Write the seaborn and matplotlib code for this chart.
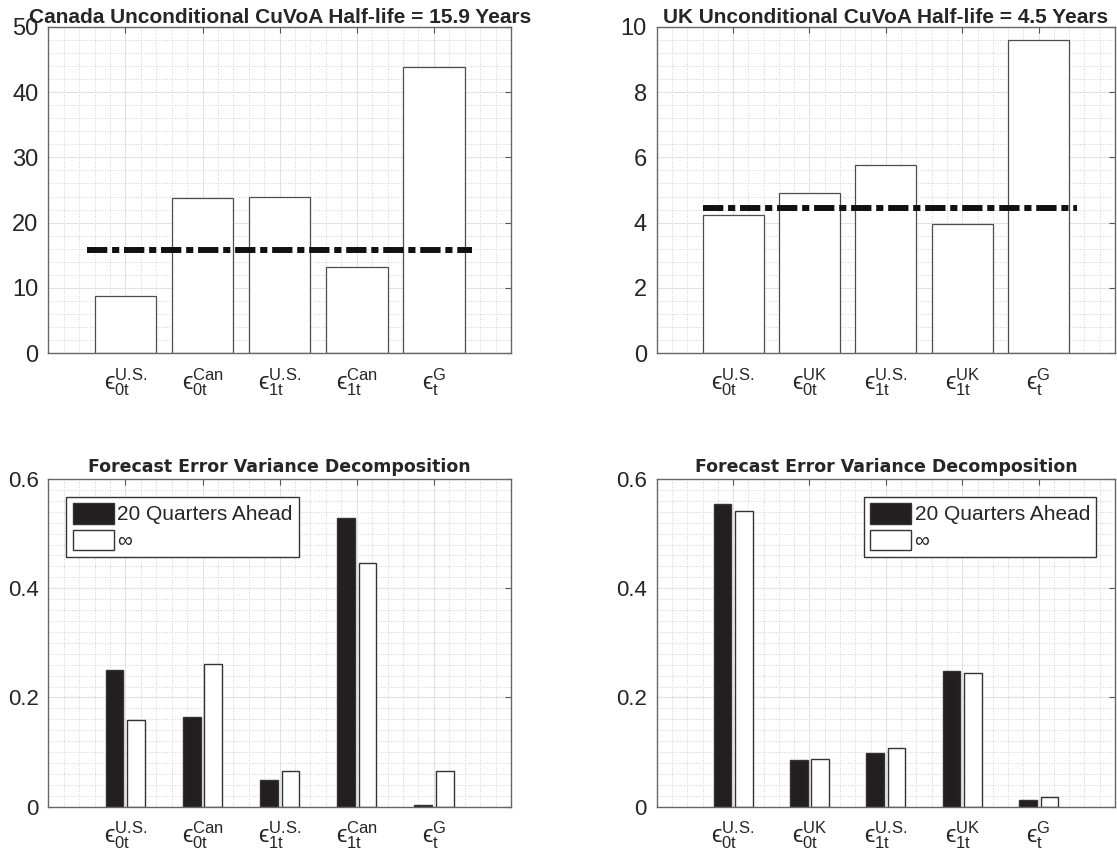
import matplotlib
matplotlib.use("Agg")
import matplotlib.pyplot as plt
from matplotlib.ticker import MultipleLocator, FuncFormatter
import pandas as pd
import seaborn as sns

# shock labels (tick labels)
can_shocks = [r"$\mathrm{ϵ}^{\text{U.S.}}_{\rm 0t}$", r"$\mathrm{ϵ}^{\rm Can}_{\rm 0t}$",
              r"$\mathrm{ϵ}^{\text{U.S.}}_{\rm 1t}$", r"$\mathrm{ϵ}^{\rm Can}_{\rm 1t}$",
              r"$\mathrm{ϵ}^{\rm G}_{\rm t}$"]
uk_shocks = [r"$\mathrm{ϵ}^{\text{U.S.}}_{\rm 0t}$", r"$\mathrm{ϵ}^{\rm UK}_{\rm 0t}$",
             r"$\mathrm{ϵ}^{\text{U.S.}}_{\rm 1t}$", r"$\mathrm{ϵ}^{\rm UK}_{\rm 1t}$",
             r"$\mathrm{ϵ}^{\rm G}_{\rm t}$"]

# half-lives (years) conditional on each shock
can_halflife = [8.8, 23.7, 24.0, 13.2, 43.9]
uk_halflife = [4.22, 4.91, 5.77, 3.95, 9.6]
can_uncond = 15.88
uk_uncond = 4.46

# forecast error variance shares
horizons = ["20 Quarters Ahead", "\u221e"]
can_fevd_20q = [0.251, 0.1645, 0.048, 0.529, 0.004]
can_fevd_inf = [0.158, 0.262, 0.0646, 0.4465, 0.0646]
uk_fevd_20q = [0.554, 0.086, 0.098, 0.2485, 0.012]
uk_fevd_inf = [0.542, 0.087, 0.107, 0.2455, 0.0177]

sns.set_style("white")
plt.rcParams["font.family"] = ["Liberation Sans", "DejaVu Sans"]
plt.rcParams["mathtext.fontset"] = "custom"
plt.rcParams["mathtext.rm"] = "Liberation Sans"
plt.rcParams["mathtext.it"] = "Liberation Sans:italic"
plt.rcParams["mathtext.bf"] = "Liberation Sans:bold"
plt.rcParams["mathtext.fallback"] = "stixsans"

W, H = 1117, 861
fig = plt.figure(figsize=(W / 100, H / 100), dpi=100)


def rect(l, t, r, b):
    return [l / W, 1 - b / H, (r - l) / W, (b - t) / H]


def style_axes(ax, ymax, ystep, yminor, ysize):
    ax.set_xlim(-1, 5)
    ax.set_ylim(0, ymax)
    ax.yaxis.set_major_locator(MultipleLocator(ystep))
    ax.yaxis.set_minor_locator(MultipleLocator(yminor))
    ax.xaxis.set_minor_locator(MultipleLocator(0.2))
    ax.yaxis.set_major_formatter(FuncFormatter(lambda v, p: "%g" % round(v, 6)))
    ax.grid(True, which="major", color="#e2e2e2", lw=0.8, ls="-")
    ax.grid(True, which="minor", color="#d2d2d2", lw=0.7, ls=":")
    ax.set_axisbelow(True)
    ax.tick_params(which="major", direction="in", length=4, width=0.8,
                   color="#555555", top=True, right=True, labelcolor="#262626")
    ax.tick_params(which="minor", length=0)
    ax.tick_params(axis="x", labelsize=17, pad=9)
    ax.tick_params(axis="y", labelsize=ysize, pad=7)
    for s in ax.spines.values():
        s.set_visible(True)
        s.set_color("#666666")
        s.set_linewidth(1)
    ax.set_xlabel("")
    ax.set_ylabel("")


def halflife_panel(ax, shocks, vals, uncond, country, ymax, ystep, yminor, x0):
    sns.barplot(x=shocks, y=vals, color="white", edgecolor="#4d4d4d", linewidth=0.9,
                width=0.8, saturation=1, errorbar=None, ax=ax)
    ax.plot([x0, 4.5], [uncond, uncond], color="#111111", lw=4.3,
            ls=(0, (3.4, 0.8, 1.2, 0.8)), zorder=3)
    style_axes(ax, ymax, ystep, yminor, 17)
    ax.set_title("%s Unconditional CuVoA Half-life = %.1f Years" % (country, uncond),
                 fontsize=15, fontweight="bold", pad=2.5)


def fevd_panel(ax, shocks, q20, qinf, legend_loc, anchor):
    df = pd.DataFrame({"shock": shocks * 2,
                       "horizon": [horizons[0]] * 5 + [horizons[1]] * 5,
                       "share": q20 + qinf})
    sns.barplot(data=df, x="shock", y="share", hue="horizon", hue_order=horizons,
                palette={horizons[0]: "#231f20", horizons[1]: "white"},
                edgecolor="#333333", linewidth=1, width=0.56, gap=0.18,
                saturation=1, errorbar=None, ax=ax)
    style_axes(ax, 0.6, 0.2, 0.02, 16)
    ax.set_title("Forecast Error Variance Decomposition", fontsize=12.5,
                 fontweight="bold", family="DejaVu Sans", pad=5)
    sns.move_legend(ax, legend_loc, bbox_to_anchor=anchor, title=None,
                    frameon=True, fontsize=15, handlelength=2.0, handleheight=1.15,
                    handletextpad=0.15, labelspacing=0.25, borderpad=0.3,
                    borderaxespad=0, fancybox=False, framealpha=1, edgecolor="#333333")
    ax.get_legend().get_frame().set_linewidth(1)


ax1 = fig.add_axes(rect(48.3, 26.7, 511, 353.3))
halflife_panel(ax1, can_shocks, can_halflife, can_uncond, "Canada", 50, 10, 2, -0.5)

ax2 = fig.add_axes(rect(656.7, 26.7, 1115, 353.3))
halflife_panel(ax2, uk_shocks, uk_halflife, uk_uncond, "UK", 10, 2, 0.4, -0.4)

ax3 = fig.add_axes(rect(48.3, 479, 511, 806.7))
fevd_panel(ax3, can_shocks, can_fevd_20q, can_fevd_inf, "upper left", (0.039, 0.946))

ax4 = fig.add_axes(rect(656.7, 479, 1115, 806.7))
fevd_panel(ax4, uk_shocks, uk_fevd_20q, uk_fevd_inf, "upper right", (0.959, 0.946))

fig.savefig("out.png", dpi=100)
